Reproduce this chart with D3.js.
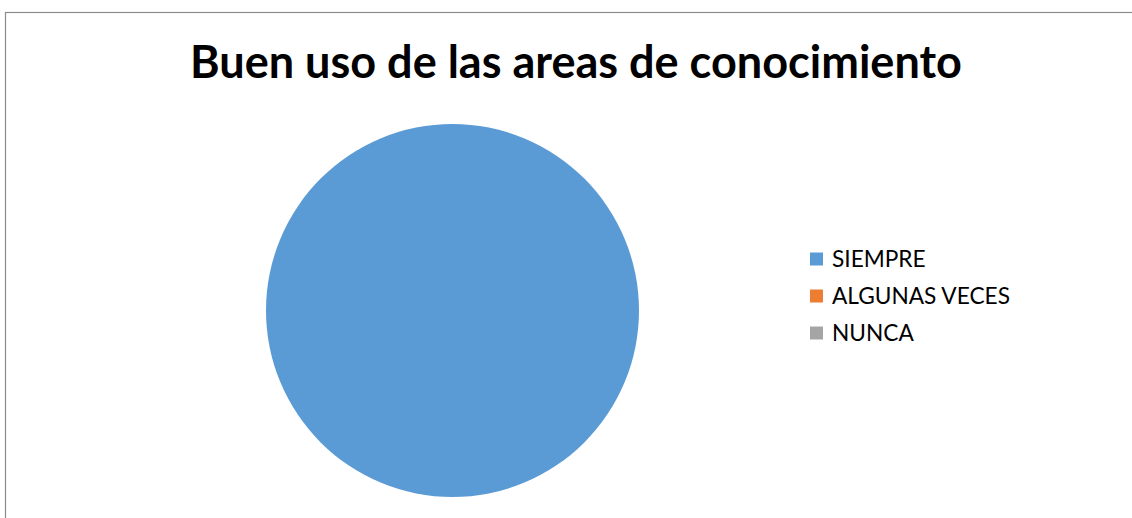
<!DOCTYPE html>
<html>
<head>
<meta charset="utf-8">
<script src="https://cdn.jsdelivr.net/npm/d3@7"></script>
<style>
  html, body { margin: 0; padding: 0; background: #fff; overflow: hidden; }
  svg { display: block; }
</style>
</head>
<body>
<script>
const title = "Buen uso de las areas de conocimiento";
const categories = ["SIEMPRE", "ALGUNAS VECES", "NUNCA"];
const values = [100, 0, 0];
const colors = ["#5B9BD5", "#ED7D31", "#A5A5A5"];

const W = 1132, H = 518;
const FONT = "Lato, 'Open Sans', 'Liberation Sans', sans-serif";

const svg = d3.select("body").append("svg").attr("width", W).attr("height", H);

// chart frame
svg.append("rect")
  .attr("x", 5.5).attr("y", 12.5)
  .attr("width", W + 10).attr("height", H + 10)
  .attr("fill", "#fff").attr("stroke", "#8c8c8c").attr("stroke-width", 1.2);

function fitText(sel, targetWidth, startSize) {
  sel.attr("font-size", startSize);
  const w = sel.node().getComputedTextLength();
  sel.attr("font-size", startSize * targetWidth / w);
}

// title
const t = svg.append("text")
  .attr("x", 576).attr("y", 78)
  .attr("text-anchor", "middle")
  .attr("font-family", FONT).attr("font-weight", "bold")
  .attr("fill", "#000")
  .text(title);
fitText(t, 772, 40);

// pie
const cx = 452.5, cy = 310.5, r = 186.5;
const color = d3.scaleOrdinal().domain(categories).range(colors);
const pie = d3.pie().sort(null).value(d => d.value);
const arc = d3.arc().innerRadius(0).outerRadius(r);
const data = categories.map((c, i) => ({ name: c, value: values[i] }));

svg.append("g").attr("transform", `translate(${cx},${cy})`)
  .selectAll("path")
  .data(pie(data).filter(d => d.endAngle - d.startAngle > 0))
  .join("path")
  .attr("d", arc)
  .attr("fill", d => color(d.data.name));

// legend
const legend = svg.append("g").attr("transform", "translate(810,0)");
const rowY = d3.scalePoint().domain(categories).range([259, 333]);
const items = legend.selectAll("g").data(categories).join("g")
  .attr("transform", d => `translate(0,${rowY(d)})`);
items.append("rect")
  .attr("x", 0).attr("y", -6.5).attr("width", 13).attr("height", 13)
  .attr("fill", d => color(d));
const labels = items.append("text")
  .attr("x", 22).attr("y", 0).attr("dy", "0.36em")
  .attr("font-family", FONT).attr("fill", "#000")
  .text(d => d);
// fit font so "ALGUNAS VECES" spans ~178px
const ref = labels.filter(d => d === "ALGUNAS VECES");
ref.attr("font-size", 20);
const rw = ref.node().getComputedTextLength();
labels.attr("font-size", 20 * 178 / rw);
</script>
</body>
</html>
